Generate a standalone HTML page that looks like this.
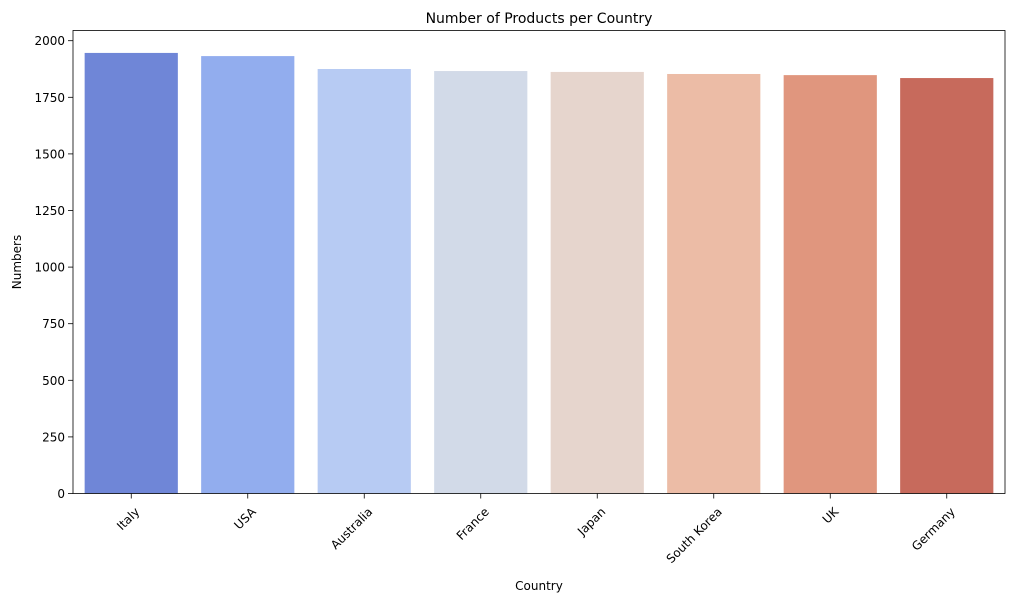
<!DOCTYPE html>
<html><head><meta charset="utf-8"><style>
body{margin:0;background:#fff;}
svg{display:block;font-family:"DejaVu Sans","Liberation Sans",sans-serif;}
</style></head><body>
<svg id="chart" width="1014" height="602">
<rect x="0" y="0" width="1014" height="602" fill="#fff"/>
<g id="plot"></g>
</svg>
<script>
const categories = ["Italy","USA","Australia","France","Japan","South Korea","UK","Germany"];
const values = [1946,1932,1875,1866,1862,1853,1848,1835];
const colors = ["#6f86d7","#92adee","#b7cbf3","#d2dae8","#e6d5cd","#ecbca6","#e0967e","#c76a5c"];
const yTicks = [0,250,500,750,1000,1250,1500,1750,2000];
const L=73,R=1005,T=30.5,B=493.5;
const yScale=v=>B-v*0.2264;
const band=(R-L)/categories.length;
const xScale=i=>L+band*(i+0.5);
const NS="http://www.w3.org/2000/svg";
const g=document.getElementById('plot');
function mk(tag,attrs,text){const e=document.createElementNS(NS,tag);for(const k in attrs)e.setAttribute(k,attrs[k]);if(text!==undefined)e.textContent=text;g.appendChild(e);return e;}
categories.forEach((c,i)=>{
  const w=band*0.8, y=yScale(values[i]);
  const b=mk('rect',{x:xScale(i)-w/2,y:y,width:w,height:B-y,fill:colors[i]});
  
  
  mk('line',{x1:xScale(i),x2:xScale(i),y1:B,y2:B+5,stroke:'#000','stroke-width':0.8});
  const ax=xScale(i)+9, ay=B+19;
  const t=mk('text',{x:ax,y:ay,'font-size':12,'text-anchor':'end',transform:`rotate(-45 ${ax} ${ay})`,fill:'#000'},c);
  
  
});
yTicks.forEach(v=>{
  const y=yScale(v);
  mk('line',{x1:L-5,x2:L,y1:y,y2:y,stroke:'#000','stroke-width':0.8});
  const t=mk('text',{x:L-8,y:y+4.5,'font-size':12,'text-anchor':'end',fill:'#000'},v);
  
  
});
const fr=mk('rect',{x:L,y:T,width:R-L,height:B-T,fill:'none',stroke:'#000','stroke-width':0.8});


const ti=mk('text',{x:(L+R)/2,y:23,'font-size':14,'text-anchor':'middle'},'Number of Products per Country');


const xl=mk('text',{x:(L+R)/2,y:590,'font-size':12,'text-anchor':'middle'},'Country');


const yl=mk('text',{x:21,y:(T+B)/2,'font-size':12,'text-anchor':'middle',transform:`rotate(-90 21 ${(T+B)/2})`},'Numbers');


</script>
</body></html>
